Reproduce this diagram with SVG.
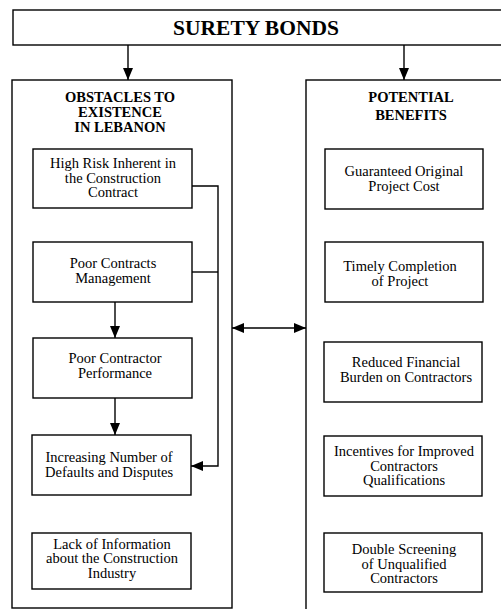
<svg xmlns="http://www.w3.org/2000/svg" width="501" height="609" viewBox="0 0 501 609">
  <style>
    .frame { fill: #ffffff; stroke: #000000; stroke-width: 1.4; }
    .box { fill: #ffffff; stroke: #000000; stroke-width: 1.4; }
    .wire { fill: none; stroke: #000000; stroke-width: 1.4; }
    .head { font-family: "Liberation Serif", "Times New Roman", serif; font-weight: bold; font-size: 14.5px; text-anchor: middle; fill: #000000; }
    .label { font-family: "Liberation Serif", "Times New Roman", serif; font-size: 14.5px; text-anchor: middle; fill: #000000; }
    .title { font-family: "Liberation Serif", "Times New Roman", serif; font-weight: bold; font-size: 21.5px; text-anchor: middle; fill: #000000; }
  </style>
  <defs>
    <marker id="arrow" viewBox="0 0 12 10" refX="12" refY="5" markerWidth="12" markerHeight="10" markerUnits="userSpaceOnUse" orient="auto-start-reverse">
      <path d="M0,0 L12,5 L0,10 Z" fill="#000000"/>
    </marker>
  </defs>

  <rect width="501" height="609" fill="#ffffff"/>

  <!-- top heading -->
  <g id="surety-bonds">
    <rect class="frame" x="13" y="10" width="495" height="35"/>
    <text class="title" x="256" y="35">SURETY BONDS</text>
  </g>

  <!-- left column: obstacles -->
  <g id="obstacles">
    <rect class="frame" x="12" y="80" width="220" height="528"/>
    <text class="head" x="120" y="102">OBSTACLES TO</text>
    <text class="head" x="120" y="117">EXISTENCE</text>
    <text class="head" x="120" y="132">IN LEBANON</text>
  </g>

  <g id="high-risk">
    <rect class="box" x="33" y="149" width="159" height="59"/>
    <text class="label" x="113" y="168">High Risk Inherent in</text>
    <text class="label" x="113" y="182.5">the Construction</text>
    <text class="label" x="113" y="197">Contract</text>
  </g>

  <g id="poor-management">
    <rect class="box" x="33" y="242" width="159" height="60"/>
    <text class="label" x="113" y="268">Poor Contracts</text>
    <text class="label" x="113" y="282.5">Management</text>
  </g>

  <g id="poor-performance">
    <rect class="box" x="33" y="338" width="159" height="60"/>
    <text class="label" x="115" y="363">Poor Contractor</text>
    <text class="label" x="115" y="377.5">Performance</text>
  </g>

  <g id="defaults">
    <rect class="box" x="32" y="435" width="159" height="60"/>
    <text class="label" x="109" y="462">Increasing Number of</text>
    <text class="label" x="109" y="476.5">Defaults and Disputes</text>
  </g>

  <g id="lack-of-information">
    <rect class="box" x="32" y="533" width="159" height="56"/>
    <text class="label" x="112" y="548.5">Lack of Information</text>
    <text class="label" x="112" y="563">about the Construction</text>
    <text class="label" x="112" y="577.5">Industry</text>
  </g>

  <!-- right column: benefits -->
  <g id="benefits">
    <rect class="frame" x="306" y="80" width="205" height="540"/>
    <text class="head" x="411" y="102">POTENTIAL</text>
    <text class="head" x="411" y="120">BENEFITS</text>
  </g>

  <g id="original-cost">
    <rect class="box" x="325" y="149" width="158" height="60"/>
    <text class="label" x="404" y="176">Guaranteed Original</text>
    <text class="label" x="404" y="190.5">Project Cost</text>
  </g>

  <g id="timely-completion">
    <rect class="box" x="325" y="242" width="158" height="60"/>
    <text class="label" x="400" y="271">Timely Completion</text>
    <text class="label" x="400" y="285.5">of Project</text>
  </g>

  <g id="financial-burden">
    <rect class="box" x="324" y="342" width="158" height="60"/>
    <text class="label" x="406" y="367">Reduced Financial</text>
    <text class="label" x="406" y="381.5">Burden on Contractors</text>
  </g>

  <g id="incentives">
    <rect class="box" x="324" y="436" width="158" height="60"/>
    <text class="label" x="404" y="456">Incentives for Improved</text>
    <text class="label" x="404" y="470.5">Contractors</text>
    <text class="label" x="404" y="485">Qualifications</text>
  </g>

  <g id="double-screening">
    <rect class="box" x="324" y="533" width="158" height="59"/>
    <text class="label" x="404" y="554">Double Screening</text>
    <text class="label" x="404" y="568.5">of Unqualified</text>
    <text class="label" x="404" y="583">Contractors</text>
  </g>

  <!-- connectors -->
  <g id="connectors">
    <path class="wire" d="M128,45 V80" marker-end="url(#arrow)"/>
    <path class="wire" d="M404,45 V80" marker-end="url(#arrow)"/>
    <path class="wire" d="M115,302 V338" marker-end="url(#arrow)"/>
    <path class="wire" d="M115,398 V435" marker-end="url(#arrow)"/>
    <path class="wire" d="M192,272 H218"/>
    <path class="wire" d="M192,186 H218 V466 H191" marker-end="url(#arrow)"/>
    <path class="wire" d="M232,328 H306" marker-start="url(#arrow)" marker-end="url(#arrow)"/>
  </g>
</svg>
